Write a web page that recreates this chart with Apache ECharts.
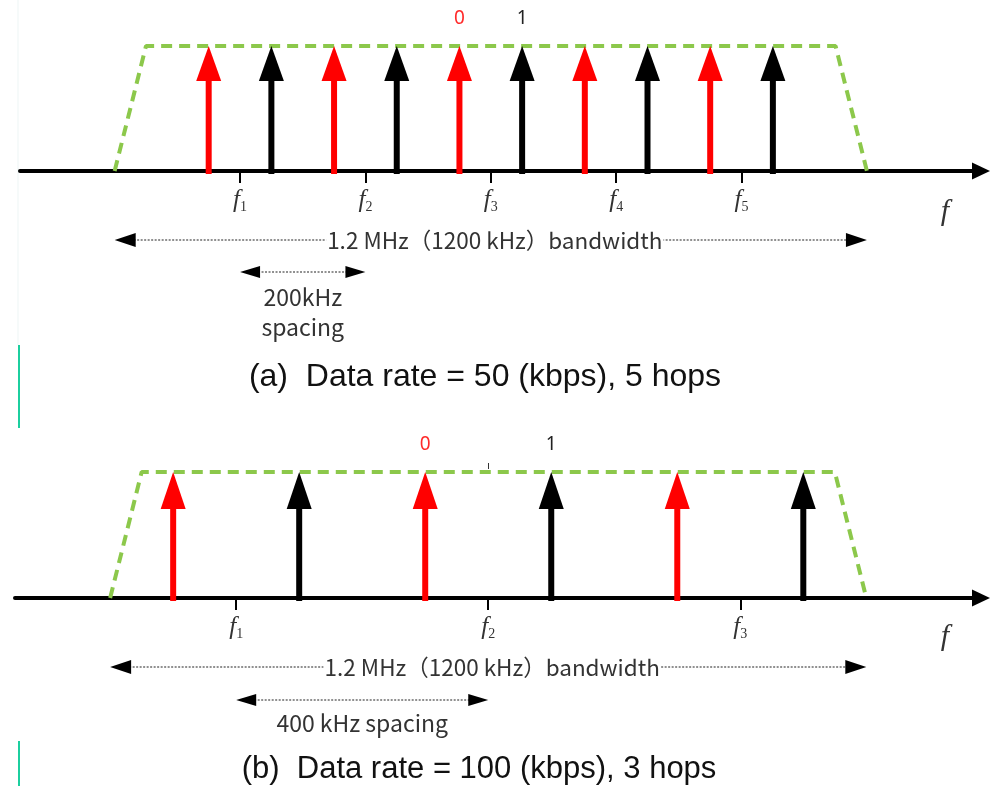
<!DOCTYPE html>
<html><head><meta charset="utf-8">
<script src="https://cdn.jsdelivr.net/npm/echarts@6/dist/echarts.min.js"></script>
<style>html,body{margin:0;padding:0;background:#fff}#c{width:992px;height:786px}</style>
</head><body><div id="c"></div>
<script>
// ---- data (frequency offsets in kHz, relative to band centre) ----
const hopFreqsA = [-400, -200, 0, 200, 400];
const hopLabelsA = ['1', '2', '3', '4', '5'];
const redTonesA = [-450, -250, -50, 150, 350];
const blackTonesA = [-350, -150, 50, 250, 450];
const redLabelsA = ['', '', '0', '', ''];
const blackLabelsA = ['', '', '1', '', ''];

const hopFreqsB = [-400, 0, 400];
const hopLabelsB = ['1', '2', '3'];
const redTonesB = [-500, -100, 300];
const blackTonesB = [-300, 100, 500];
const redLabelsB = ['', '0', ''];
const blackLabelsB = ['', '1', ''];

const toneLevel = 1;
const maskX = [-600, -550, 550, 600];
const maskY = [0, 1, 1, 0];
const bandwidthSpan = [-600, 600];
const spacingSpanA = [-400, -200];
const spacingSpanB = [-400, 0];
const axisMin = -751, axisMax = 782;

const bandwidthText = '1.2 MHz（1200 kHz）bandwidth';
const spacingTextA = '200kHz\nspacing';
const spacingTextB = '400 kHz spacing';
const captionA = '(a)  Data rate = 50 (kbps), 5 hops';
const captionB = '(b)  Data rate = 100 (kbps), 3 hops';

// ---- styles ----
const RED = '#ff0000', BLACK = '#000000', GREEN = '#8cc84b', TXT = '#333333';
const CJK = '"Noto Sans CJK JP", "Noto Sans", sans-serif';

function xAxisCfg(gi, ticks, labels) {
  return {
    type: 'value', gridIndex: gi, min: axisMin, max: axisMax,
    axisLine: { show: true, onZero: false, symbol: ['none', 'triangle'], symbolSize: [17, 18],
      lineStyle: { color: BLACK, width: 4 } },
    axisTick: { show: true, customValues: ticks, length: 12, lineStyle: { color: BLACK, width: 2 } },
    axisLabel: { show: true, customValues: ticks, margin: 15,
      formatter: v => '{f|f}{n|' + labels[ticks.indexOf(v)] + '}',
      rich: {
        f: { fontFamily: '"Liberation Serif", serif', fontStyle: 'italic', fontSize: 25, color: TXT, lineHeight: 28 },
        n: { fontFamily: '"Liberation Serif", serif', fontSize: 14, color: TXT, verticalAlign: 'bottom', lineHeight: 28 }
      } },
    splitLine: { show: false }
  };
}
function yAxisCfg(gi) {
  return { type: 'value', gridIndex: gi, min: 0, max: 1, show: false };
}

function toneRender(color, labels, headH) {
  return function (params, api) {
    const x = api.value(0), h = api.value(1);
    const base = api.coord([x, 0]);
    const tip = api.coord([x, h]);
    const headW = 25, stemW = 6;
    const children = [
      { type: 'rect', shape: { x: base[0] - stemW / 2, y: tip[1] + headH - 2, width: stemW, height: base[1] + 3 - (tip[1] + headH - 2) }, style: { fill: color } },
      { type: 'polygon', shape: { points: [[tip[0], tip[1]], [tip[0] - headW / 2, tip[1] + headH], [tip[0] + headW / 2, tip[1] + headH]] }, style: { fill: color } }
    ];
    const lab = labels[params.dataIndex];
    if (lab) {
      children.push({ type: 'text', x: tip[0], y: tip[1] - 27, style: { text: lab, fill: color === RED ? '#ff2a2a' : '#222', font: '19px "Noto Sans", sans-serif', align: 'center', verticalAlign: 'middle' } });
    }
    return { type: 'group', children };
  };
}

function dimRender(opt) {
  return function (params, api) {
    const x1 = api.value(0), x2 = api.value(1);
    const p1 = api.coord([x1, 0]), p2 = api.coord([x2, 0]);
    const y = p1[1] + opt.offset;
    const L = opt.headL, H = opt.headH;
    const children = [
      { type: 'line', shape: { x1: p1[0] + L - 2, y1: y, x2: p2[0] - L + 2, y2: y }, style: { stroke: '#222', lineWidth: 1.2, lineDash: [2, 1.5] } },
      { type: 'polygon', shape: { points: [[p1[0], y], [p1[0] + L, y - H], [p1[0] + L, y + H]] }, style: { fill: BLACK } },
      { type: 'polygon', shape: { points: [[p2[0], y], [p2[0] - L, y - H], [p2[0] - L, y + H]] }, style: { fill: BLACK } }
    ];
    const cx = (p1[0] + p2[0]) / 2 + (opt.dx || 0);
    children.push({ type: 'text', x: cx, y: p1[1] + opt.textOffset, z2: 10, style: {
      text: opt.text, fill: TXT, font: opt.font, align: 'center', verticalAlign: 'middle',
      lineHeight: opt.lineHeight || 24, backgroundColor: opt.bg ? '#fff' : null, padding: opt.bg ? [0, 1] : 0 } });
    return { type: 'group', children };
  };
}

function panelSeries(gi, red, black, redLabels, blackLabels, spacingSpan, spacingOpt, headH) {
  return [
    { type: 'line', xAxisIndex: gi, yAxisIndex: gi, data: maskX.map((x, i) => [x, maskY[i]]), symbol: 'none', clip: false, z: 3,
      lineStyle: { color: GREEN, width: 4, type: [11, 7], cap: 'butt' }, silent: true },
    { type: 'custom', xAxisIndex: gi, yAxisIndex: gi, data: red.map(x => [x, toneLevel]), clip: false, z: 4,
      renderItem: toneRender(RED, redLabels, headH), encode: { x: 0, y: 1 }, silent: true },
    { type: 'custom', xAxisIndex: gi, yAxisIndex: gi, data: black.map(x => [x, toneLevel]), clip: false, z: 4,
      renderItem: toneRender(BLACK, blackLabels, headH), encode: { x: 0, y: 1 }, silent: true },
    { type: 'custom', xAxisIndex: gi, yAxisIndex: gi, data: [bandwidthSpan], clip: false, z: 5, silent: true,
      encode: { x: [0, 1] },
      renderItem: dimRender({ offset: 69, headL: 21, headH: 7, text: bandwidthText, textOffset: 69, font: '22.5px ' + CJK, bg: true, dx: 4 }) },
    { type: 'custom', xAxisIndex: gi, yAxisIndex: gi, data: [spacingSpan], clip: false, z: 5, silent: true,
      encode: { x: [0, 1] },
      renderItem: dimRender(spacingOpt) }
  ];
}

const chart = echarts.init(document.getElementById('c'), null, { renderer: 'canvas' });
chart.setOption({
  backgroundColor: '#ffffff',
  animation: false,
  grid: [
    { left: 20, top: 46, width: 961, height: 125 },
    { left: 15, top: 472, width: 966, height: 126 }
  ],
  xAxis: [xAxisCfg(0, hopFreqsA, hopLabelsA), xAxisCfg(1, hopFreqsB, hopLabelsB)],
  yAxis: [yAxisCfg(0), yAxisCfg(1)],
  series: [].concat(
    panelSeries(0, redTonesA, blackTonesA, redLabelsA, blackLabelsA, spacingSpanA,
      { offset: 101, headL: 20, headH: 6, text: spacingTextA, textOffset: 141, font: '23px ' + CJK, lineHeight: 30 }, 35),
    panelSeries(1, redTonesB, blackTonesB, redLabelsB, blackLabelsB, spacingSpanB,
      { offset: 102, headL: 20, headH: 6, text: spacingTextB, textOffset: 125, font: '23px ' + CJK }, 37)
  ),
  graphic: [
    { type: 'rect', shape: { x: 17.5, y: 0, width: 1, height: 345 }, style: { fill: '#eef6f6' } },
    { type: 'rect', shape: { x: 18, y: 345, width: 2, height: 83 }, style: { fill: '#1ccf9f' } },
    { type: 'rect', shape: { x: 18, y: 741, width: 2, height: 45 }, style: { fill: '#1ccf9f' } },
    { type: 'line', shape: { x1: 488.5, y1: 463, x2: 488.5, y2: 469 }, style: { stroke: '#333', lineWidth: 1 }, z: 10 },
    { type: 'text', x: 945, y: 212, style: { text: 'f', font: 'italic 30px "Liberation Serif", serif', fill: TXT, align: 'center', verticalAlign: 'middle' } },
    { type: 'text', x: 945, y: 637, style: { text: 'f', font: 'italic 30px "Liberation Serif", serif', fill: TXT, align: 'center', verticalAlign: 'middle' } },
    { type: 'text', x: 485, y: 377, style: { text: captionA, font: '32px "Liberation Sans", Arial, sans-serif', fill: '#111', align: 'center', verticalAlign: 'middle' } },
    { type: 'text', x: 479, y: 769, style: { text: captionB, font: '31px "Liberation Sans", Arial, sans-serif', fill: '#111', align: 'center', verticalAlign: 'middle' } }
  ]
});
</script>
</body></html>
